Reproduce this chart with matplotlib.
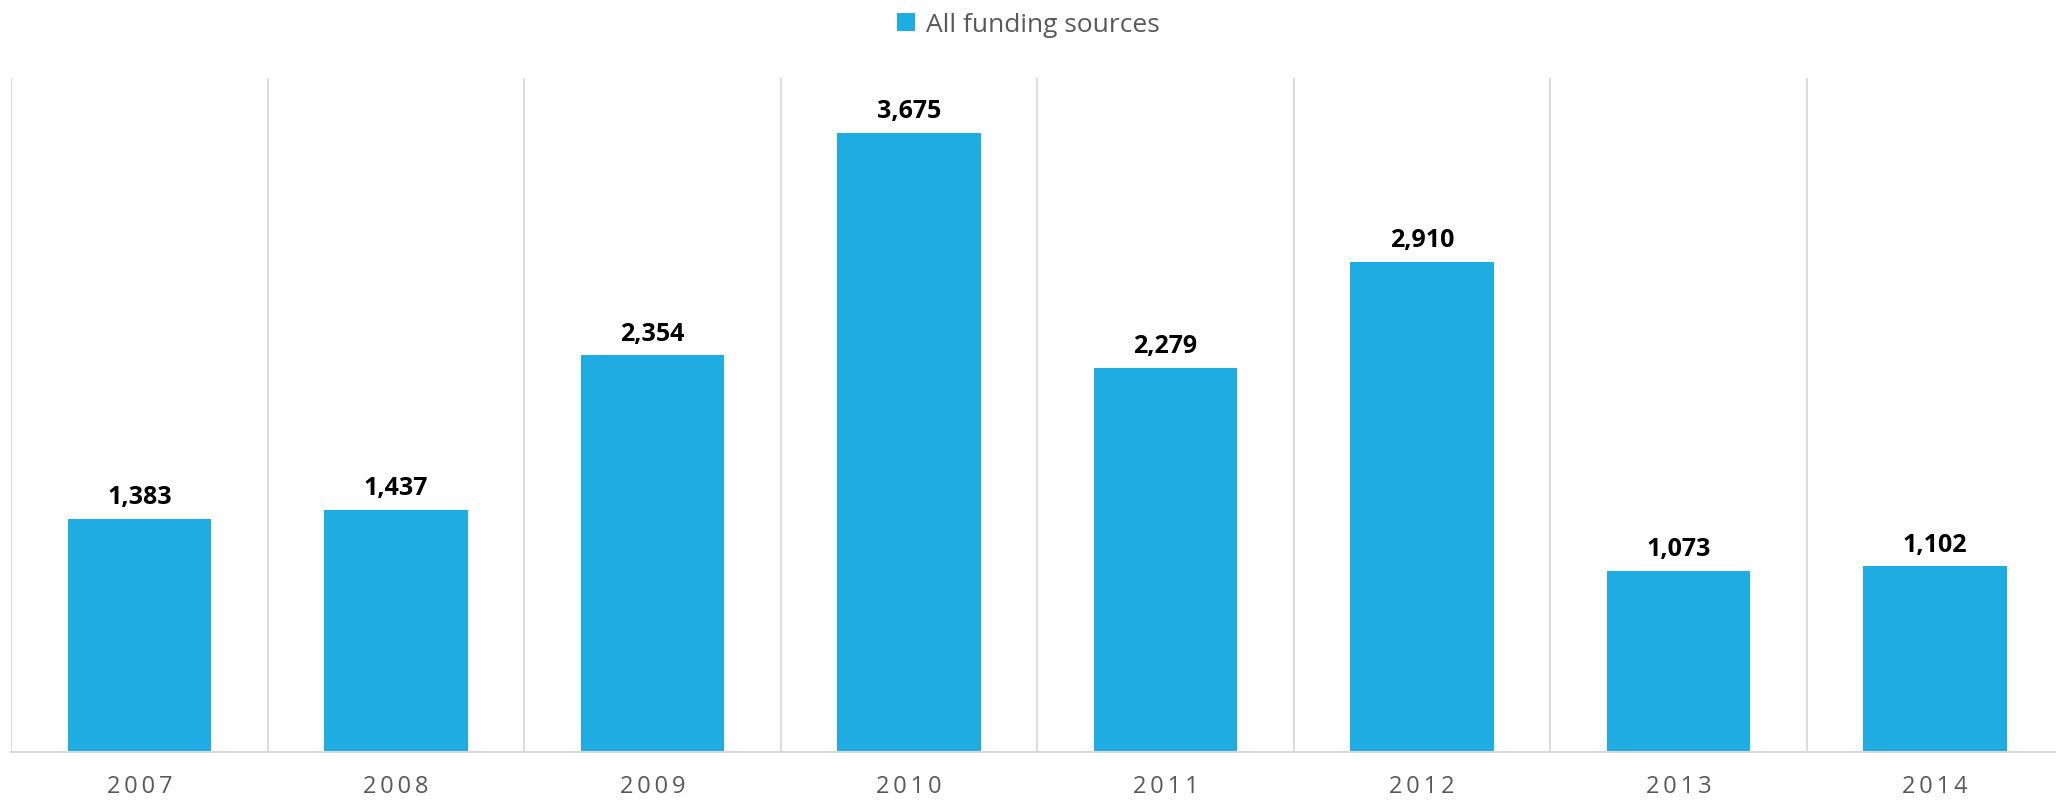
import matplotlib.pyplot as plt
import numpy as np

years = ['2007', '2008', '2009', '2010', '2011', '2012', '2013', '2014']
values = [1383, 1437, 2354, 3675, 2279, 2910, 1073, 1102]
series_name = 'All funding sources'

bar_color = '#1EACE2'
grid_color = '#d9d9d9'
text_grey = '#595959'

plt.rcParams['font.family'] = ['Open Sans', 'DejaVu Sans']

fig = plt.figure(figsize=(20.56, 8.04), dpi=100)
# axes run slightly past the right edge, like the original
ax = fig.add_axes([0.0055, 0.0634, 0.998, 0.8386])

x = np.arange(len(years))
bars = ax.bar(x, values, width=0.56, color=bar_color, label=series_name, zorder=2)

# labels above bars
for xi, v in zip(x, values):
    ax.annotate(f'{v:,}', (xi, v), xytext=(0, 7), textcoords='offset points',
                ha='center', va='bottom', fontsize=18, fontweight='bold', color='black')

ax.set_xlim(-0.5, len(years) - 0.5)
ax.set_ylim(0, 4000)

# vertical separators between categories
for b in np.arange(-0.5, len(years) + 0.5, 1):
    ax.axvline(b, color=grid_color, lw=1.3, zorder=1)

ax.set_xticks(x)
# spaced-out year labels
ax.set_xticklabels(['\u2009'.join(y) for y in years], fontsize=17, color=text_grey)
ax.tick_params(axis='x', length=0, pad=16)
ax.set_yticks([])
for s in ['left', 'right', 'top']:
    ax.spines[s].set_visible(False)
ax.spines['bottom'].set_color(grid_color)
ax.spines['bottom'].set_linewidth(1.5)

fig.legend(handles=[bars], labels=[series_name], loc='center', bbox_to_anchor=(0.5, 0.968),
           frameon=False, fontsize=19, labelcolor=text_grey, handlelength=0.7,
           handleheight=0.7, handletextpad=0.4)

fig.savefig('out.png', dpi=100)
